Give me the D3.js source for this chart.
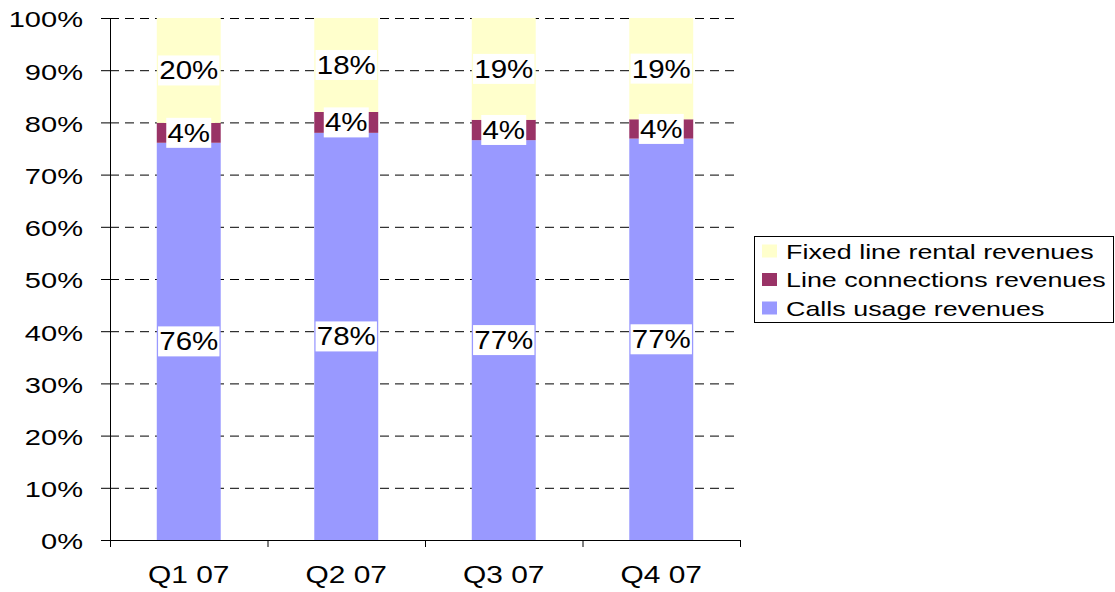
<!DOCTYPE html>
<html>
<head>
<meta charset="utf-8">
<script src="https://cdn.jsdelivr.net/npm/d3@7"></script>
<style>
  body { margin: 0; background: #fff; }
  text { font-family: "Liberation Sans", Arial, sans-serif; fill: #000; }
</style>
</head>
<body>
<div id="chart"></div>
<script>
// data
var quarters = ["Q1 07", "Q2 07", "Q3 07", "Q4 07"];
var seriesNames = ["Calls usage revenues", "Line connections revenues", "Fixed line rental revenues"];
var callsUsage = [76.1, 78.0, 76.6, 76.9];
var lineConnections = [3.8, 4.0, 3.9, 3.7];
var fixedRental = [20.1, 18.0, 19.5, 19.4];
var labelCalls = ["76%", "78%", "77%", "77%"];
var labelLine = ["4%", "4%", "4%", "4%"];
var labelFixed = ["20%", "18%", "19%", "19%"];
var yTicks = [0, 10, 20, 30, 40, 50, 60, 70, 80, 90, 100];
var colors = ["#9999FF", "#993366", "#FFFFCC"];

var width = 1115, height = 592;
var margin = { top: 18, right: 375, bottom: 52, left: 110 };

var rows = quarters.map((q, i) => ({
  quarter: q,
  calls: callsUsage[i],
  line: lineConnections[i],
  fixed: fixedRental[i],
  labels: [labelCalls[i], labelLine[i], labelFixed[i]]
}));
var keys = ["calls", "line", "fixed"];
var stack = d3.stack().keys(keys)(rows);

var x = d3.scaleBand()
  .domain(quarters)
  .range([margin.left, width - margin.right]);
var y = d3.scaleLinear()
  .domain([0, 100])
  .range([height - margin.bottom, margin.top]);
var barW = x.bandwidth() * 0.406;

var svg = d3.select("#chart").append("svg")
  .attr("width", width)
  .attr("height", height);

// gridlines
svg.append("g")
  .selectAll("line")
  .data(yTicks.filter(d => d > 0))
  .join("line")
  .attr("x1", margin.left)
  .attr("x2", width - margin.right)
  .attr("y1", d => y(d) + 0.5)
  .attr("y2", d => y(d) + 0.5)
  .attr("stroke", "#000")
  .attr("stroke-width", 1)
  .attr("stroke-dasharray", "9,6");

// bars
svg.append("g")
  .selectAll("g")
  .data(stack)
  .join("g")
  .attr("fill", (d, i) => colors[i])
  .selectAll("rect")
  .data(d => d)
  .join("rect")
  .attr("x", d => x(d.data.quarter) + (x.bandwidth() - barW) / 2)
  .attr("y", d => y(d[1]))
  .attr("width", barW)
  .attr("height", d => y(d[0]) - y(d[1]));

// y axis
var yAxis = svg.append("g")
  .attr("transform", `translate(${margin.left},0)`)
  .call(d3.axisLeft(y).tickValues(yTicks).tickSize(9).tickPadding(11.5).tickFormat(d => d + "%"));
yAxis.select(".domain").attr("stroke", "#000");
yAxis.selectAll("text")
  .attr("font-size", 22)
  .attr("dy", "0.4em")
  .attr("font-family", "'Liberation Sans', Arial, sans-serif")
  .attr("transform", "scale(1.32,1)");

// x axis
var xAxis = svg.append("g")
  .attr("transform", `translate(0,${height - margin.bottom})`)
  .call(d3.axisBottom(x).tickSize(0).tickPadding(27).tickSizeOuter(0));
xAxis.select(".domain").attr("stroke", "#000");
xAxis.selectAll("text")
  .attr("font-size", 23)
  .attr("font-family", "'Liberation Sans', Arial, sans-serif")
  .attr("transform", "scale(1.3,1)");
xAxis.append("g")
  .selectAll("line")
  .data(quarters.concat([null]))
  .join("line")
  .attr("x1", (d, i) => margin.left + i * x.step() + 0.5)
  .attr("x2", (d, i) => margin.left + i * x.step() + 0.5)
  .attr("y1", 0)
  .attr("y2", 7)
  .attr("stroke", "#000");

// value labels with white boxes
var labels = svg.append("g");
stack.forEach((layer, li) => {
  layer.forEach(d => {
    var cx = x(d.data.quarter) + x.bandwidth() / 2;
    var cy = (y(d[0]) + y(d[1])) / 2;
    var g = labels.append("g")
      .attr("transform", `translate(${cx},${cy}) scale(1.18,1)`);
    var box = g.append("rect").attr("fill", "#fff");
    var t = g.append("text")
      .attr("text-anchor", "middle")
      .attr("dy", "0.36em")
      .attr("font-size", 25)
      .text(d.data.labels[li]);
    var bb = t.node().getBBox();
    box.attr("x", bb.x - 1)
      .attr("y", -15)
      .attr("width", bb.width + 2)
      .attr("height", 30);
  });
});

// legend
var legend = svg.append("g").attr("transform", "translate(754,236)");
legend.append("rect")
  .attr("x", 0.5)
  .attr("y", 0.5)
  .attr("width", 359)
  .attr("height", 86)
  .attr("fill", "#fff")
  .attr("stroke", "#000");
var legendOrder = [2, 1, 0];
var item = legend.selectAll(".item")
  .data(legendOrder)
  .join("g")
  .attr("class", "item")
  .attr("transform", (d, i) => `translate(0,${15 + i * 28.5})`);
item.append("rect")
  .attr("x", 8)
  .attr("y", -6.5)
  .attr("width", 15)
  .attr("height", 13)
  .attr("fill", d => colors[d]);
item.append("text")
  .attr("transform", "translate(32,0) scale(1.28,1)")
  .attr("dy", "0.36em")
  .attr("font-size", 21)
  .text(d => seriesNames[d]);
</script>
</body>
</html>
